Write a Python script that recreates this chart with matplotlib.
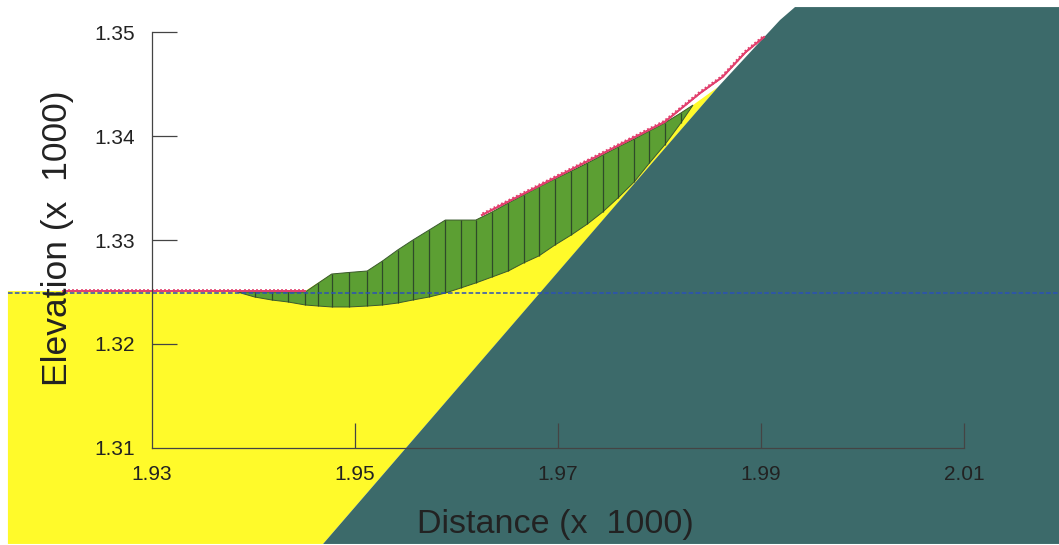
import matplotlib
matplotlib.use("Agg")
import matplotlib.pyplot as plt
import matplotlib.patheffects as pe

plt.rcParams["font.family"] = ["Liberation Sans", "DejaVu Sans"]

# all values in (x 1000) units, as on the axes
x_ticks = [1.93, 1.95, 1.97, 1.99, 2.01]
y_ticks = [1.31, 1.32, 1.33, 1.34, 1.35]

# bedrock outline
rock_x = [1.94685, 1.97680, 1.98576, 1.99187, 1.99335, 2.01936, 2.01936]
rock_y = [1.30077, 1.33462, 1.34471, 1.35115, 1.35240, 1.35240, 1.30077]

# soil outline, left to right along the ground surface
soil_x = [1.9158, 1.9451, 1.9477, 1.9512, 1.9589, 1.9619, 1.9805, 1.9833, 1.98576, 1.94685, 1.9158]
soil_y = [1.32510, 1.32510, 1.32673, 1.32702, 1.33192, 1.33192, 1.34125, 1.34298, 1.34471, 1.30077, 1.30077]

# slices of the sliding mass
slice_x = [1.9401, 1.9418, 1.9434, 1.9451, 1.9464, 1.9477, 1.9494, 1.9512, 1.9527, 1.9542,
           1.9557, 1.9573, 1.9589, 1.9604, 1.9619, 1.9635, 1.9651, 1.9666, 1.9681, 1.9697,
           1.9713, 1.9729, 1.9744, 1.9759, 1.9775, 1.9790, 1.9805, 1.9821]
slice_top = [1.32500, 1.32500, 1.32500, 1.32500, 1.32587, 1.32673, 1.32688, 1.32702, 1.32798, 1.32904,
             1.33000, 1.33096, 1.33192, 1.33192, 1.33192, 1.33269, 1.33356, 1.33433, 1.33510, 1.33587,
             1.33663, 1.33740, 1.33817, 1.33894, 1.33971, 1.34048, 1.34125, 1.34221]
slice_bottom = [1.32452, 1.32423, 1.32404, 1.32375, 1.32365, 1.32356, 1.32356, 1.32365, 1.32375, 1.32394,
                1.32423, 1.32452, 1.32490, 1.32538, 1.32587, 1.32644, 1.32702, 1.32779, 1.32846, 1.32952,
                1.33048, 1.33154, 1.33269, 1.33404, 1.33558, 1.33740, 1.33913, 1.34125]
mass_start = (1.9384, 1.32500)
mass_end = (1.9833, 1.34298)

# water table
water_x = [1.9158, 2.01936]
water_y = [1.32490, 1.32490]

# surface load lines
load1_x = [1.9212, 1.9451]
load1_y = [1.32510, 1.32510]
load2_x = [1.9625, 1.9805, 1.9840, 1.9862, 1.9885, 1.9903]
load2_y = [1.33240, 1.34135, 1.34413, 1.34567, 1.34808, 1.34952]

fig = plt.figure(figsize=(10.59, 5.45), dpi=100)
ax = fig.add_axes([0, 0, 1, 1])
ax.set_xlim(1.91502, 2.01936)
ax.set_ylim(1.30067, 1.35308)
ax.set_axisbelow(False)

# fills stay under the ticks (2.5) so the axis shows on top of the rock
ax.fill(soil_x, soil_y, color="#FFFA2A", lw=0, zorder=0.5)
ax.fill(rock_x, rock_y, color="#3C6A6A", lw=0, zorder=0.6)

mass_x = [mass_start[0]] + slice_x + [mass_end[0]] + slice_x[::-1]
mass_y = [mass_start[1]] + slice_top + [mass_end[1]] + slice_bottom[::-1]
ax.fill(mass_x, mass_y, facecolor="#5C9F33", edgecolor="#3A5A30", lw=0.7, zorder=0.7)
ax.vlines(slice_x, slice_bottom, slice_top, color="#2F4A2A", lw=0.9, zorder=0.8)

ax.plot(water_x, water_y, color="#2B50B8", lw=1.1, ls=(0, (3, 1.5)), zorder=1.1)

ticked = [pe.withTickedStroke(angle=90, length=0.3, spacing=3), pe.Normal()]
for lx, ly in [(load1_x, load1_y), (load2_x, load2_y)]:
    ax.plot(lx, ly, color="#E2406E", lw=1.3, zorder=1.0, path_effects=ticked)

# axes drawn as in the slope program: open frame, ticks pointing inward
for side in ["top", "right"]:
    ax.spines[side].set_visible(False)
ax.spines["left"].set_position(("data", 1.93))
ax.spines["left"].set_bounds(1.31, 1.35)
ax.spines["bottom"].set_position(("data", 1.31))
ax.spines["bottom"].set_bounds(1.93, 2.01)
for side in ["left", "bottom"]:
    ax.spines[side].set_color("#444444")
    ax.spines[side].set_linewidth(0.9)

ax.set_xticks(x_ticks)
ax.set_xticklabels([f"{v:.2f}" for v in x_ticks])
ax.set_yticks(y_ticks)
ax.set_yticklabels([f"{v:.2f}" for v in y_ticks])
ax.tick_params(axis="x", direction="in", length=18, width=0.9, color="#444444",
               labelsize=15, labelcolor="#222222", pad=12)
ax.tick_params(axis="y", direction="in", length=18, width=0.9, color="#444444",
               labelsize=15, labelcolor="#222222", pad=12)
# the corner ticks would just double the axis lines
ax.xaxis.get_major_ticks()[0].tick1line.set_visible(False)
ax.yaxis.get_major_ticks()[0].tick1line.set_visible(False)

ax.set_xlabel("Distance (x  1000)", fontsize=24.5, color="#222222", va="center")
ax.xaxis.set_label_coords(555 / 1059, 1 - 525 / 545)
ax.set_ylabel("Elevation (x  1000)", fontsize=25.5, color="#222222", va="center")
ax.yaxis.set_label_coords(58 / 1059, 1 - 238 / 545)

fig.savefig("out.png", dpi=100, facecolor="white")
